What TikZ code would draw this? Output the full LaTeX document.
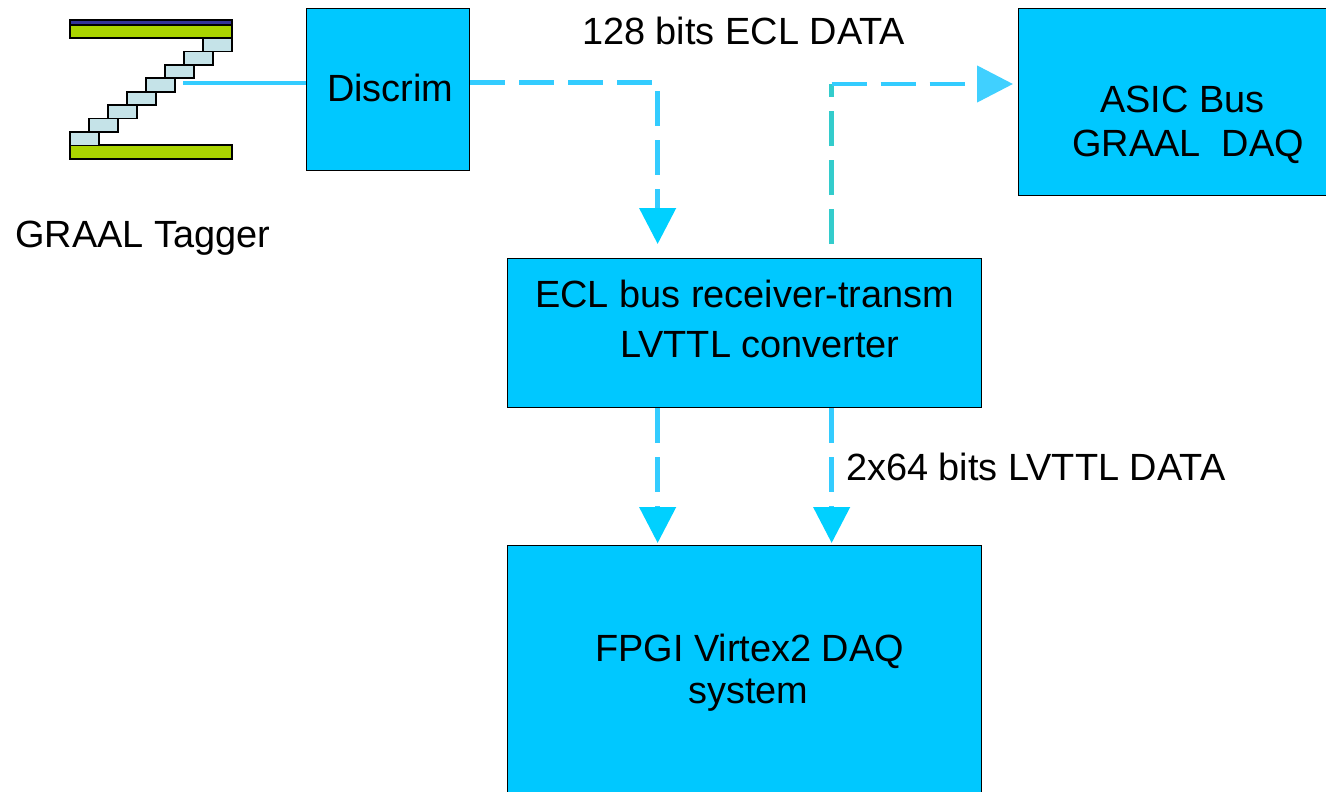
\documentclass[tikz,border=0pt]{standalone}
\usepackage{fontspec}
\setmainfont{Liberation Sans}
\usetikzlibrary{arrows.meta}
\definecolor{boxcyan}{HTML}{00C8FF}
\definecolor{linecyan}{HTML}{33CCFF}
\definecolor{tipcyan}{HTML}{00D0FF}
\definecolor{tipcyanlight}{HTML}{40D0FF}
\definecolor{turq}{HTML}{33CCCC}
\definecolor{tagreen}{HTML}{AAD400}
\definecolor{tagnavy}{HTML}{333399}
\definecolor{tagstep}{HTML}{C5E3E8}
\tikzset{
  box/.style={draw=black, line width=1.3pt, fill=boxcyan, inner sep=0pt, anchor=north west},
  txt/.style={inner sep=0pt, anchor=base west, font=\fontsize{37.9}{42}\selectfont},
  flow/.style={draw=linecyan, line width=4.5pt, dash pattern=on 35pt off 14pt,
    -{Triangle[width=36pt,length=36pt,fill=tipcyan,color=tipcyan]}},
  flowplain/.style={line width=4.5pt, dash pattern=on 35pt off 14pt},
  part/.style={draw=black, line width=1.6pt}
}
\begin{document}
\begin{tikzpicture}[x=1pt,y=-1pt]
  \useasboundingbox (0,0) rectangle (1326,792);
  \clip (0,0) rectangle (1326,792);

  % tagger: two bars and the staircase of counters
  \fill[white] (0,0) rectangle (1326,792);
  \filldraw[part, fill=tagnavy] (70,20) rectangle (232,25);
  \filldraw[part, fill=tagreen] (70,25) rectangle (232,38);
  \filldraw[part, fill=tagreen] (70,145) rectangle (232,159);
  \foreach \i in {0,...,7} {
    \filldraw[part, fill=tagstep]
      ({203-19*\i},{38+13.43*\i}) rectangle ({232-19*\i},{38+13.43*(\i+1)});
  }
  \coordinate (tagout) at (183,83);
  \node[txt] (taglabel) at (15,247) {GRAAL Tagger};

  % blocks
  \node[box, minimum width=163pt, minimum height=162pt] (discrim) at (306,8) {};
  \node[box, minimum width=330pt, minimum height=187pt] (asic) at (1018,8) {};
  \node[box, minimum width=474pt, minimum height=149pt] (ecl) at (507,258) {};
  \node[box, minimum width=474pt, minimum height=280pt] (fpgi) at (507,545) {};

  % block texts
  \node[txt] (tdiscrim) at (327,101) {Discrim};
  \node[txt] (tasic1) at (1100,113) {ASIC Bus};
  \node[txt] (tasic2) at (1072,156) {GRAAL\ \ DAQ};
  \node[txt] (tecl1) at (535,307) {ECL bus receiver-transm};
  \node[txt] (tecl2) at (620,357) {LVTTL converter};
  \node[txt] (tfpgi1) at (595,661) {FPGI Virtex2 DAQ};
  \node[txt] (tfpgi2) at (688,703) {system};

  % connector labels
  \node[txt] (lecl) at (582,45) {128 bits ECL DATA};
  \node[txt] (llvttl) at (846,480) {2x64 bits LVTTL DATA};

  % connectors
  \draw[linecyan, line width=4pt] (tagout) -- (tagout -| discrim.west);
  \draw[flow, shorten >=14pt]
    ([yshift=7pt]discrim.east) -| ([xshift=-87pt]ecl.north);
  \coordinate (corner) at ([xshift=87pt]ecl.north |- 0,84);
  \draw[flowplain, draw=turq, shorten <=14pt] ([xshift=87pt]ecl.north) -- (corner);
  \draw[flow, shorten >=5pt,
    -{Triangle[width=36pt,length=36pt,fill=tipcyanlight,color=tipcyanlight]}]
    (corner) -- (corner -| asic.west);
  \draw[flow, shorten >=2pt] ([xshift=-87pt]ecl.south) -- ([xshift=-87pt]fpgi.north);
  \draw[flow, shorten >=2pt] ([xshift=87pt]ecl.south) -- ([xshift=87pt]fpgi.north);
\end{tikzpicture}
\end{document}
